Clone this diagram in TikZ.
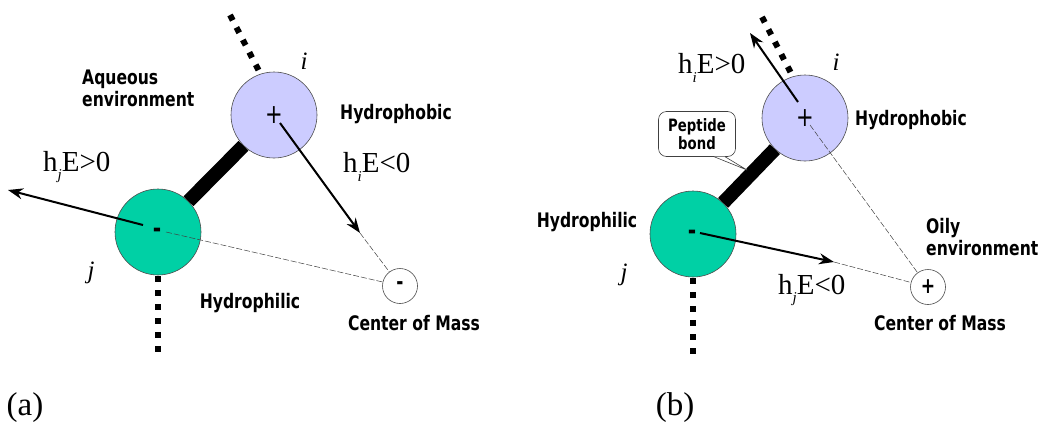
\documentclass[tikz,border=0pt]{standalone}
\usepackage{fontspec}
\setmainfont{Liberation Serif}
\newfontfamily\lab{DejaVu Sans}[FakeStretch=0.78]
\usetikzlibrary{arrows.meta}
\definecolor{phob}{RGB}{204,204,255}
\definecolor{phil}{RGB}{0,208,165}
\newcommand{\sbj}[1]{\raisebox{-0.3em}{\fontsize{15}{15}\selectfont\itshape #1}}
\begin{document}
\begin{tikzpicture}[x=1pt,y=-1pt,
 atom/.style={circle,draw=black!70,line width=0.6pt,minimum size=86pt,inner sep=0pt,font=\lab\fontsize{27}{27}\selectfont},
 com/.style={circle,draw=black!70,line width=0.6pt,fill=white,minimum size=35pt,inner sep=0pt,font=\lab\bfseries\fontsize{22}{22}\selectfont},
 lbl/.style={font=\lab\bfseries\fontsize{20}{22}\selectfont,inner sep=0pt},
 ser/.style={font=\fontsize{29}{29}\selectfont,inner sep=0pt},
 idx/.style={font=\itshape\fontsize{25}{25}\selectfont,inner sep=0pt},
 sgn/.style={font=\lab\bfseries\fontsize{26}{26}\selectfont,inner sep=0pt},
 bond/.style={line width=14pt},
 chain/.style={line width=6pt,dash pattern=on 6pt off 8pt},
 force/.style={line width=2pt,-{Stealth[length=15pt,width=11pt]}},
 guide/.style={line width=0.5pt,dash pattern=on 6pt off 2pt,black!75},
]
\path[use as bounding box] (0,0) rectangle (1052,426);

% ---------------- panel (a)
\node[atom,fill=phob] (ia) at (274,115) {+};
\node[atom,fill=phil] (ja) at (158,232) {};
\node[sgn] (jam) at (157,233) {-};
\draw[bond] (ja) -- (ia);
\node[com] (ca) at (400,286) {-};
\coordinate (ta1) at (230,15);
\coordinate (ta2) at (260,73);
\draw[chain] (ta1) -- (ta2);
\coordinate (ba1) at (158,276);
\coordinate (ba2) at (158,356);
\draw[chain] (ba1) -- (ba2);
\coordinate (aja) at (143,225);
\coordinate (ajt) at (8,190);
\draw[force] (aja) -- (ajt);
\coordinate (aia) at (280,123);
\coordinate (ait) at (360,233);
\draw[force] (aia) -- (ait);
\coordinate (gja) at (166,232);
\draw[guide] (gja) -- (ca);
\draw[guide] (ait) -- (ca);
\node[lbl,align=left,anchor=west] (aq) at (82,88) {Aqueous\\environment};
\node[lbl,anchor=west] (hpa) at (340,114) {Hydrophobic};
\node[lbl] (hla) at (250,303) {Hydrophilic};
\node[lbl] (cma) at (414,323) {Center of Mass};
\node[ser,anchor=west] (ea) at (43,167) {h\sbj{j}E>0};
\node[ser,anchor=west] (eb) at (343,167) {h\sbj{i}E<0};
\node[idx] (ila) at (304,61) {i};
\node[idx] (jla) at (91,273) {j};
\node[font=\fontsize{33}{33}\selectfont,inner sep=0pt] (pa) at (25,408) {(a)};

% ---------------- panel (b)
\node[atom,fill=phob] (ib) at (805,118) {+};
\node[atom,fill=phil] (jb) at (693,234) {};
\node[sgn] (jbm) at (692,235) {-};
\draw[bond] (jb) -- (ib);
\node[com] (cb) at (928,287) {+};
\coordinate (tb1) at (762,17);
\coordinate (tb2) at (792,75);
\draw[chain] (tb1) -- (tb2);
\coordinate (bb1) at (693,278);
\coordinate (bb2) at (693,356);
\draw[chain] (bb1) -- (bb2);
\coordinate (bia) at (798,102);
\coordinate (bit) at (750,33);
\draw[force] (bia) -- (bit);
\coordinate (bja) at (700,233);
\coordinate (bjt) at (834,262);
\draw[force] (bja) -- (bjt);
\coordinate (gib) at (810,125);
\draw[guide] (gib) -- (cb);
\draw[guide] (bjt) -- (cb);
\node[draw=black!75,line width=0.6pt,fill=white,rounded corners=8pt,minimum width=77pt,minimum height=45pt,align=center,inner sep=0pt,font=\lab\bfseries\fontsize{17}{18}\selectfont] (pep) at (697,134) {Peptide\\bond};
\coordinate (pt1) at (714,156.7);
\coordinate (pt2) at (725,156.7);
\coordinate (ptip) at (747,170);
\fill[white] (pt1) -- (ptip) -- (pt2) -- cycle;
\draw[black!75,line width=0.6pt] (pt1) -- (ptip) -- (pt2);
\node[lbl,anchor=west] (hpb) at (855,120) {Hydrophobic};
\node[lbl] (hlb) at (587,222) {Hydrophilic};
\node[lbl,align=left,anchor=west] (oil) at (926,237) {Oily\\environment};
\node[lbl] (cmb) at (940,323) {Center of Mass};
\node[ser,anchor=west] (ec) at (678,68) {h\sbj{i}E>0};
\node[ser,anchor=west] (ed) at (778,290) {h\sbj{j}E<0};
\node[idx] (ilb) at (836,62) {i};
\node[idx] (jlb) at (624,275) {j};
\node[font=\fontsize{33}{33}\selectfont,inner sep=0pt] (pb) at (675,408) {(b)};
\end{tikzpicture}
\end{document}
